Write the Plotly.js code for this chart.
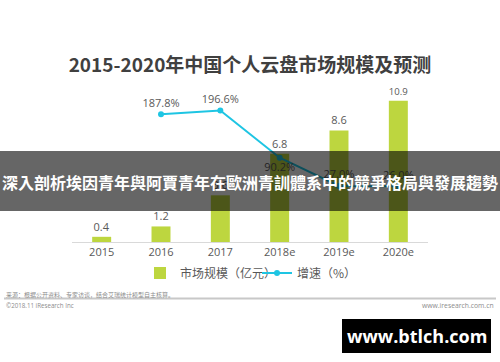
<!DOCTYPE html>
<html>
<head>
<meta charset="utf-8">
<script src="https://cdn.plot.ly/plotly-3.0.1.min.js"></script>
<style>
html,body{margin:0;padding:0;background:#fff;}
#chart{width:500px;height:362px;}
</style>
</head>
<body>
<div id="chart"></div>
<script>
// ---- data ----
const years = ['2015', '2016', '2017', '2018e', '2019e', '2020e'];
const marketSize = [0.4, 1.2, 3.6, 6.8, 8.6, 10.9];          // 市场规模（亿元）
const growthRate = [null, 187.8, 196.6, 90.2, 27.0, 26.0];     // 增速（%）
const growthLabelPos = ['top center', 'top center', 'top center', 'bottom center', 'top center', 'top center'];
const titleText = '2015-2020年中国个人云盘市场规模及预测';
const seriesNames = ['市场规模（亿元）', '增速（%）'];
const bannerText = '深入剖析埃因青年與阿賈青年在歐洲青訓體系中的競爭格局與發展趨勢';
const sourceText = '来源：根据公开资料、专家访谈，结合艾瑞统计模型自主核算。';
const copyrightText = '©2018.11 iResearch Inc';
const siteText = 'www.iresearch.com.cn';
const watermarkText = 'www.btlch.com';

// ---- layout helpers (pixel -> paper) ----
const W = 500, H = 362;
const ML = 72, MR = 72, MT = 80, MB = 120;
const PW = W - ML - MR, PH = H - MT - MB;
const px = x => (x - ML) / PW;
const py = y => (H - MB - y) / PH;

const FONT = 'Open Sans, Noto Sans CJK SC, sans-serif';
const GRAY = '#595959';

const barTrace = {
  type: 'bar',
  name: seriesNames[0],
  x: years,
  y: marketSize,
  width: 0.32,
  marker: {color: '#bdd63f'},
  text: marketSize.map(v => v.toFixed(1)),
  textposition: 'outside',
  textfont: {family: FONT, size: 11, color: GRAY},
  cliponaxis: false,
  hoverinfo: 'skip'
};

const lineTrace = {
  type: 'scatter',
  mode: 'lines+markers+text',
  name: seriesNames[1],
  x: years,
  y: growthRate,
  yaxis: 'y2',
  line: {color: '#1ec5e3', width: 2},
  marker: {color: '#1ec5e3', size: 6},
  text: growthRate.map(v => v == null ? '' : v.toFixed(1) + '%'),
  textposition: growthLabelPos,
  textfont: {family: FONT, size: 11, color: GRAY},
  cliponaxis: false,
  connectgaps: false,
  hoverinfo: 'skip'
};

const layout = {
  width: W, height: H,
  margin: {l: ML, r: MR, t: MT, b: MB, pad: 0},
  paper_bgcolor: '#fff',
  plot_bgcolor: '#fff',
  font: {family: FONT, color: GRAY, size: 11},
  title: {
    text: titleText,
    font: {family: 'Noto Sans CJK SC, sans-serif', size: 19, color: '#404040', weight: 'bold'},
    x: 0.5, xanchor: 'center',
    y: 1 - 65 / H, yanchor: 'middle', yref: 'container'
  },
  xaxis: {
    type: 'category',
    range: [-0.5, 5.5],
    showline: true, linecolor: '#d9d9d9', linewidth: 1,
    showgrid: false, zeroline: false,
    ticks: '',
    tickfont: {family: FONT, size: 11, color: GRAY},
    fixedrange: true
  },
  yaxis: {
    range: [0, 162 / 12.97],
    visible: false, showgrid: false, zeroline: false, fixedrange: true
  },
  yaxis2: {
    overlaying: 'y', side: 'right',
    range: [-(242 - 197.9) / 0.445, -(242 - 197.9) / 0.445 + 162 / 0.445],
    visible: false, showgrid: false, zeroline: false, fixedrange: true
  },
  showlegend: true,
  legend: {
    orientation: 'h',
    x: px(140), xanchor: 'left',
    y: py(273), yanchor: 'middle',
    font: {family: 'Noto Sans CJK SC, sans-serif', size: 12, color: GRAY},
    itemwidth: 30,
    entrywidth: 72, entrywidthmode: 'pixels',
    bgcolor: 'rgba(0,0,0,0)'
  },
  shapes: [
    // separator line for source
    {type: 'line', xref: 'paper', yref: 'paper', x0: px(4), x1: px(496), y0: py(298.5), y1: py(298.5),
     line: {color: '#c8c8c8', width: 2}, layer: 'above'},
    // overlay banner
    {type: 'rect', xref: 'paper', yref: 'paper', x0: px(0), x1: px(500), y0: py(211), y1: py(151),
     fillcolor: 'rgba(0,0,0,0.6)', line: {width: 0}, layer: 'above'},
    // watermark box
    {type: 'rect', xref: 'paper', yref: 'paper', x0: px(342), x1: px(491), y0: py(353), y1: py(319),
     fillcolor: '#000', line: {width: 0}, layer: 'above'}
  ],
  annotations: [
    {text: bannerText, xref: 'paper', yref: 'paper', x: px(250), y: py(181.5), xanchor: 'center', yanchor: 'middle',
     showarrow: false, font: {family: 'Noto Sans CJK TC, sans-serif', size: 16, color: '#fff', weight: 'bold'}},
    {text: sourceText, xref: 'paper', yref: 'paper', x: px(4), y: py(294), xanchor: 'left', yanchor: 'middle',
     showarrow: false, font: {family: 'Noto Sans CJK SC, sans-serif', size: 6, color: '#8c8c8c'}},
    {text: copyrightText, xref: 'paper', yref: 'paper', x: px(4), y: py(305.5), xanchor: 'left', yanchor: 'middle',
     showarrow: false, font: {family: FONT, size: 6.2, color: '#8c8c8c'}},
    {text: siteText, xref: 'paper', yref: 'paper', x: px(496), y: py(305.5), xanchor: 'right', yanchor: 'middle',
     showarrow: false, font: {family: FONT, size: 6.8, color: '#8c8c8c'}},
    {text: watermarkText, xref: 'paper', yref: 'paper', x: px(416.5), y: py(336), xanchor: 'center', yanchor: 'middle',
     showarrow: false, font: {family: 'Open Sans, sans-serif', size: 18, color: '#fff', weight: 'bold'}}
  ]
};

Plotly.newPlot('chart', [barTrace, lineTrace], layout, {displayModeBar: false, staticPlot: true});
</script>
</body>
</html>
